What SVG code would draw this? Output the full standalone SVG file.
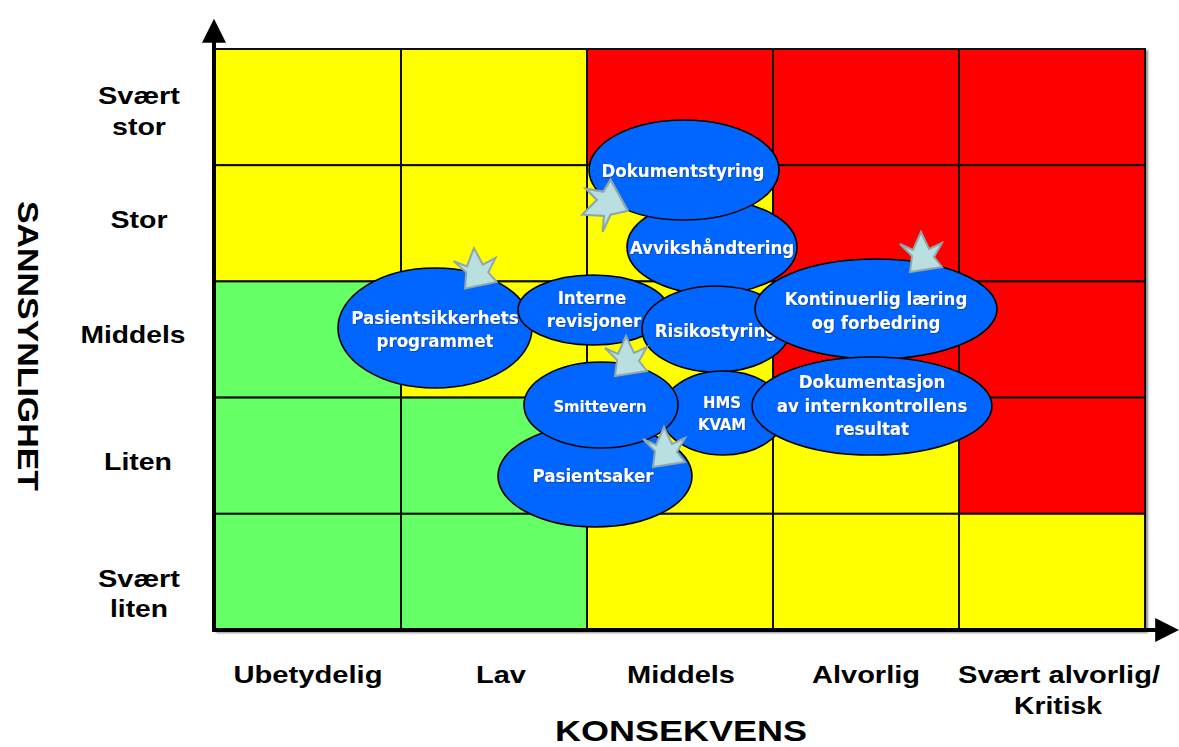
<svg xmlns="http://www.w3.org/2000/svg" width="1179" height="747" viewBox="0 0 1179 747">
  <style>
    .cell { stroke: #111; stroke-width: 2; }
    .y { fill: #FFFF00; }
    .r { fill: #FF0000; }
    .g { fill: #66FF66; }
    .bubble { fill: #0066FF; stroke: #000; stroke-width: 1.6; }
    .lbl { font-family: 'DejaVu Sans Condensed', 'DejaVu Sans', sans-serif; font-weight: bold; font-size: 18.5px; fill: #fff; text-anchor: middle; filter: url(#txtShadow); }
    .small { font-size: 16.5px; }
    .axis { font-family: 'Liberation Sans', Arial, sans-serif; font-weight: bold; font-size: 24px; fill: #000; text-anchor: middle; }
    .title { font-family: 'Liberation Sans', Arial, sans-serif; font-weight: bold; font-size: 30px; fill: #000; text-anchor: middle; }
    .burst { fill: #B9DFE1; stroke: #8FA7AA; stroke-width: 2; stroke-linejoin: miter; }
  </style>
  <defs>
    <filter id="txtShadow" x="-10%" y="-30%" width="120%" height="160%">
      <feDropShadow dx="0.8" dy="0.8" stdDeviation="0.4" flood-color="#203060" flood-opacity="0.7"/>
    </filter>
    <filter id="gridShadow" x="-5%" y="-5%" width="110%" height="110%">
      <feDropShadow dx="2" dy="2" stdDeviation="1" flood-color="#000" flood-opacity="0.45"/>
    </filter>
    <marker id="arrowHead" viewBox="0 0 10 10" refX="2" refY="5" markerWidth="6" markerHeight="6" orient="auto" markerUnits="strokeWidth">
      <path d="M0,0 L10,5 L0,10 Z" fill="#000"/>
    </marker>
    <!-- crown-shaped burst pointer, spikes up, base down -->
    <polygon id="crown" class="burst" points="-21,-8 -8,-2 0,-20 8,-3 21,-9 13,5 21,15 -11,20 -9,4"/>
  </defs>

  <!-- risk matrix cells -->
  <g id="matrix" filter="url(#gridShadow)">
    <rect class="cell y" x="215" y="49" width="186" height="116.2"/>
    <rect class="cell y" x="401" y="49" width="186" height="116.2"/>
    <rect class="cell r" x="587" y="49" width="186" height="116.2"/>
    <rect class="cell r" x="773" y="49" width="186" height="116.2"/>
    <rect class="cell r" x="959" y="49" width="186" height="116.2"/>

    <rect class="cell y" x="215" y="165.2" width="186" height="116.2"/>
    <rect class="cell y" x="401" y="165.2" width="186" height="116.2"/>
    <rect class="cell y" x="587" y="165.2" width="186" height="116.2"/>
    <rect class="cell r" x="773" y="165.2" width="186" height="116.2"/>
    <rect class="cell r" x="959" y="165.2" width="186" height="116.2"/>

    <rect class="cell g" x="215" y="281.4" width="186" height="116.2"/>
    <rect class="cell y" x="401" y="281.4" width="186" height="116.2"/>
    <rect class="cell y" x="587" y="281.4" width="186" height="116.2"/>
    <rect class="cell r" x="773" y="281.4" width="186" height="116.2"/>
    <rect class="cell r" x="959" y="281.4" width="186" height="116.2"/>

    <rect class="cell g" x="215" y="397.6" width="186" height="116.2"/>
    <rect class="cell g" x="401" y="397.6" width="186" height="116.2"/>
    <rect class="cell y" x="587" y="397.6" width="186" height="116.2"/>
    <rect class="cell y" x="773" y="397.6" width="186" height="116.2"/>
    <rect class="cell r" x="959" y="397.6" width="186" height="116.2"/>

    <rect class="cell g" x="215" y="513.8" width="186" height="116.2"/>
    <rect class="cell g" x="401" y="513.8" width="186" height="116.2"/>
    <rect class="cell y" x="587" y="513.8" width="186" height="116.2"/>
    <rect class="cell y" x="773" y="513.8" width="186" height="116.2"/>
    <rect class="cell y" x="959" y="513.8" width="186" height="116.2"/>
  </g>

  <!-- axes -->
  <g id="connectors">
    <line x1="214" y1="632" x2="214" y2="38" stroke="#000" stroke-width="4" marker-end="url(#arrowHead)"/>
    <line x1="212" y1="630" x2="1160" y2="630" stroke="#000" stroke-width="4" marker-end="url(#arrowHead)"/>
  </g>

  <!-- probability axis -->
  <g id="y-labels">
    <text class="axis" x="139" y="104" textLength="82" lengthAdjust="spacingAndGlyphs">Svært</text>
    <text class="axis" x="139" y="135" textLength="54" lengthAdjust="spacingAndGlyphs">stor</text>
    <text class="axis" x="139" y="228" textLength="57" lengthAdjust="spacingAndGlyphs">Stor</text>
    <text class="axis" x="133" y="343" textLength="105" lengthAdjust="spacingAndGlyphs">Middels</text>
    <text class="axis" x="138" y="470" textLength="68" lengthAdjust="spacingAndGlyphs">Liten</text>
    <text class="axis" x="139" y="587" textLength="82" lengthAdjust="spacingAndGlyphs">Svært</text>
    <text class="axis" x="139" y="617" textLength="58" lengthAdjust="spacingAndGlyphs">liten</text>
    <text class="title" transform="translate(18,346) rotate(90)" textLength="290" lengthAdjust="spacingAndGlyphs">SANNSYNLIGHET</text>
  </g>

  <!-- consequence axis -->
  <g id="x-labels">
    <text class="axis" x="308" y="683" textLength="149" lengthAdjust="spacingAndGlyphs">Ubetydelig</text>
    <text class="axis" x="501" y="683" textLength="50" lengthAdjust="spacingAndGlyphs">Lav</text>
    <text class="axis" x="681" y="683" textLength="108" lengthAdjust="spacingAndGlyphs">Middels</text>
    <text class="axis" x="866" y="683" textLength="108" lengthAdjust="spacingAndGlyphs">Alvorlig</text>
    <text class="axis" x="1059" y="683" textLength="202" lengthAdjust="spacingAndGlyphs">Svært alvorlig/</text>
    <text class="axis" x="1058" y="714" textLength="88" lengthAdjust="spacingAndGlyphs">Kritisk</text>
    <text class="title" x="681" y="741" textLength="252" lengthAdjust="spacingAndGlyphs">KONSEKVENS</text>
  </g>

  <!-- activity bubbles -->
  <g id="avvikshandtering">
    <ellipse class="bubble" cx="712" cy="247" rx="85" ry="47"/>
    <text class="lbl" x="712" y="254">Avvikshåndtering</text>
  </g>
  <g id="dokumentstyring">
    <ellipse class="bubble" cx="684" cy="170" rx="95" ry="50"/>
    <text class="lbl" x="683" y="177">Dokumentstyring</text>
  </g>
  <g id="pasientsikkerhet">
    <ellipse class="bubble" cx="435" cy="328" rx="97" ry="60"/>
    <text class="lbl" x="435" y="324">Pasientsikkerhets</text>
    <text class="lbl" x="435" y="347">programmet</text>
  </g>
  <g id="interne-revisjoner">
    <ellipse class="bubble" cx="593" cy="310" rx="75" ry="35"/>
    <text class="lbl" x="592" y="304">Interne</text>
    <text class="lbl" x="594" y="327">revisjoner</text>
  </g>
  <g id="risikostyring">
    <ellipse class="bubble" cx="716" cy="329" rx="74" ry="43"/>
    <text class="lbl" x="716" y="337">Risikostyring</text>
  </g>
  <g id="kontinuerlig-laering">
    <ellipse class="bubble" cx="876" cy="309" rx="121" ry="50"/>
    <text class="lbl" x="876" y="305">Kontinuerlig læring</text>
    <text class="lbl" x="876" y="329">og forbedring</text>
  </g>
  <g id="pasientsaker">
    <ellipse class="bubble" cx="595" cy="476" rx="97" ry="51"/>
    <text class="lbl" x="593" y="482">Pasientsaker</text>
  </g>
  <g id="hms-kvam">
    <ellipse class="bubble" cx="723" cy="413" rx="62" ry="42"/>
    <text class="lbl small" x="722" y="408">HMS</text>
    <text class="lbl small" x="722" y="430">KVAM</text>
  </g>
  <g id="smittevern">
    <ellipse class="bubble" cx="601" cy="405" rx="77" ry="43"/>
    <text class="lbl small" x="600" y="412">Smittevern</text>
  </g>
  <g id="dokumentasjon">
    <ellipse class="bubble" cx="872" cy="406" rx="120" ry="49"/>
    <text class="lbl" x="872" y="388">Dokumentasjon</text>
    <text class="lbl" x="872" y="412">av internkontrollens</text>
    <text class="lbl" x="872" y="435">resultat</text>
  </g>

  <!-- burst pointers -->
  <g id="pointers">
    <use href="#crown" transform="translate(603,207) rotate(-110) scale(1.1)"/>
    <use href="#crown" transform="translate(475,268) rotate(-3)"/>
    <use href="#crown" transform="translate(626,356) rotate(0)"/>
    <use href="#crown" transform="translate(664,447) rotate(0)"/>
    <use href="#crown" transform="translate(921,252) rotate(0)"/>
  </g>
</svg>
